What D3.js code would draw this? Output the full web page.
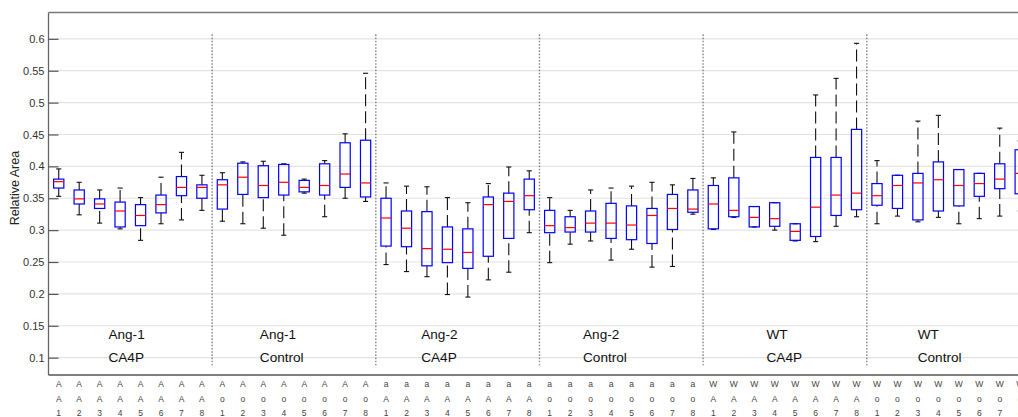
<!DOCTYPE html>
<html>
<head>
<meta charset="utf-8">
<script src="https://cdn.jsdelivr.net/npm/d3@7"></script>
<style>
  html, body { margin: 0; padding: 0; background: #fff; }
  svg { display: block; font-family: "Liberation Sans", Arial, Helvetica, sans-serif; }
</style>
</head>
<body>
<svg id="chart" width="1018" height="417"></svg>
<script>
// Box statistics per sample (8 samples in each of 6 groups)
const whiskerLow = [
  0.353, 0.324, 0.311, 0.302, 0.284, 0.310, 0.316, 0.331,
  0.314, 0.310, 0.303, 0.292, 0.358, 0.321, 0.350, 0.345,
  0.246, 0.235, 0.227, 0.199, 0.195, 0.222, 0.234, 0.296,
  0.249, 0.278, 0.283, 0.253, 0.270, 0.242, 0.243, 0.325,
  0.301, 0.320, 0.305, 0.300, 0.283, 0.282, 0.306, 0.321,
  0.310, 0.322, 0.313, 0.320, 0.310, 0.318, 0.322, 0.330
];
const quartile1 = [
  0.366, 0.341, 0.334, 0.305, 0.307, 0.327, 0.354, 0.350,
  0.333, 0.356, 0.351, 0.355, 0.360, 0.355, 0.367, 0.352,
  0.275, 0.274, 0.244, 0.249, 0.240, 0.259, 0.287, 0.332,
  0.296, 0.297, 0.297, 0.287, 0.285, 0.279, 0.301, 0.328,
  0.302, 0.321, 0.305, 0.306, 0.284, 0.290, 0.323, 0.332,
  0.339, 0.334, 0.316, 0.330, 0.338, 0.353, 0.365, 0.357
];
const medians = [
  0.376, 0.349, 0.341, 0.330, 0.323, 0.340, 0.367, 0.367,
  0.371, 0.383, 0.370, 0.375, 0.367, 0.370, 0.388, 0.374,
  0.319, 0.303, 0.271, 0.270, 0.265, 0.340, 0.345, 0.354,
  0.307, 0.304, 0.311, 0.311, 0.308, 0.323, 0.334, 0.333,
  0.341, 0.331, 0.320, 0.318, 0.298, 0.336, 0.355, 0.358,
  0.354, 0.370, 0.374, 0.379, 0.370, 0.373, 0.380, 0.389
];
const quartile3 = [
  0.380, 0.363, 0.349, 0.344, 0.340, 0.355, 0.384, 0.371,
  0.379, 0.405, 0.401, 0.403, 0.378, 0.404, 0.437, 0.441,
  0.350, 0.330, 0.329, 0.305, 0.302, 0.352, 0.358, 0.380,
  0.331, 0.321, 0.330, 0.342, 0.338, 0.334, 0.356, 0.363,
  0.370, 0.382, 0.337, 0.343, 0.310, 0.414, 0.414, 0.458,
  0.373, 0.386, 0.389, 0.407, 0.395, 0.389, 0.404, 0.426
];
const whiskerHigh = [
  0.396, 0.375, 0.363, 0.366, 0.351, 0.383, 0.422, 0.386,
  0.390, 0.407, 0.408, 0.404, 0.380, 0.409, 0.451, 0.546,
  0.374, 0.369, 0.368, 0.351, 0.343, 0.373, 0.399, 0.393,
  0.351, 0.331, 0.363, 0.366, 0.369, 0.375, 0.371, 0.381,
  0.382, 0.454, 0.337, 0.343, 0.310, 0.512, 0.538, 0.593,
  0.409, 0.386, 0.471, 0.480, 0.395, 0.389, 0.460, 0.440
];

// Tick label pieces: group prefix (two letters) + sample number
const groupPrefixes = ["AA", "Ao", "aA", "ao", "WA", "Wo"];
const sampleNumbers = ["1", "2", "3", "4", "5", "6", "7", "8"];
const categories = groupPrefixes.flatMap(p => sampleNumbers.map(n => p + n));

// Group annotations and where their text starts (in sample-position units)
const groupTitles = [["Ang-1", "CA4P"], ["Ang-1", "Control"], ["Ang-2", "CA4P"],
                     ["Ang-2", "Control"], ["WT", "CA4P"], ["WT", "Control"]];
const groupTitleAt = [3.43, 10.83, 18.72, 26.63, 35.6, 42.99];

const yTicks = [0.1, 0.15, 0.2, 0.25, 0.3, 0.35, 0.4, 0.45, 0.5, 0.55, 0.6];

(function () {
  const boxes = categories.map((c, i) => ({
    name: c, pos: i + 1,
    lo: whiskerLow[i], q1: quartile1[i], med: medians[i], q3: quartile3[i], hi: whiskerHigh[i]
  }));

  const svg = d3.select("#chart");
  const plotLeft = 48.5, plotTop = 12.5, plotBottom = 375;
  const step = 20.457;

  const x = d3.scaleLinear().domain([0.5, 48.5]).range([plotLeft, plotLeft + 48 * step]);
  const y = d3.scaleLinear().domain([0.0728, 0.6413]).range([plotBottom, plotTop]);

  // horizontal grid
  svg.append("g").selectAll("line").data(yTicks).join("line")
    .attr("x1", plotLeft).attr("x2", 1018)
    .attr("y1", d => y(d)).attr("y2", d => y(d))
    .attr("stroke", "#e3e3e3").attr("stroke-width", 1.2);

  // group separators
  const seps = [8.5, 16.5, 24.5, 32.5, 40.5];
  svg.append("g").selectAll("line").data(seps).join("line")
    .attr("x1", d => x(d)).attr("x2", d => x(d))
    .attr("y1", y(0.607)).attr("y2", y(0.088))
    .attr("stroke", "#8a8a8a").attr("stroke-width", 1.4)
    .attr("stroke-dasharray", "1.6,1.6");

  // left axis
  const yAxis = d3.axisLeft(y).tickValues(yTicks).tickFormat(d3.format("~g"))
    .tickSizeInner(-10).tickSizeOuter(0).tickPadding(4);
  const ga = svg.append("g").attr("transform", `translate(${plotLeft},0)`).call(yAxis);
  ga.select(".domain").attr("stroke", "#666").attr("stroke-width", 1.3)
    .attr("d", `M0,${plotTop}V${plotBottom}`);
  ga.selectAll(".tick line").attr("stroke", "#555").attr("stroke-width", 1.2);
  ga.selectAll(".tick text").attr("fill", "#333").style("font-size", "11px")
    .style("font-family", "'Liberation Sans', Arial, sans-serif");

  // top and bottom frame lines
  svg.append("line").attr("x1", plotLeft).attr("x2", 1018).attr("y1", plotTop).attr("y2", plotTop)
    .attr("stroke", "#7a7a7a").attr("stroke-width", 1.3);
  svg.append("line").attr("x1", plotLeft).attr("x2", 1018).attr("y1", plotBottom).attr("y2", plotBottom)
    .attr("stroke", "#555").attr("stroke-width", 1.3);

  // y axis title
  svg.append("text")
    .attr("transform", "translate(19,188) rotate(-90)")
    .attr("text-anchor", "middle")
    .attr("fill", "#222").style("font-size", "12.5px")
    .text("Relative Area");

  // boxes
  const bw = step * 0.5, cw = step * 0.25;
  const g = svg.append("g").selectAll("g").data(boxes).join("g");

  // whiskers (dashed, drawn upward from their lower end)
  g.append("line")
    .attr("x1", d => x(d.pos)).attr("x2", d => x(d.pos))
    .attr("y1", d => y(d.q3)).attr("y2", d => y(d.hi))
    .attr("stroke", "#111").attr("stroke-width", 1.1).attr("stroke-dasharray", "12,5");
  g.append("line")
    .attr("x1", d => x(d.pos)).attr("x2", d => x(d.pos))
    .attr("y1", d => y(d.lo)).attr("y2", d => y(d.q1))
    .attr("stroke", "#111").attr("stroke-width", 1.1).attr("stroke-dasharray", "12,5");

  // whisker caps
  g.append("line")
    .attr("x1", d => x(d.pos) - cw / 2).attr("x2", d => x(d.pos) + cw / 2)
    .attr("y1", d => y(d.hi)).attr("y2", d => y(d.hi))
    .attr("stroke", "#111").attr("stroke-width", 1.1);
  g.append("line")
    .attr("x1", d => x(d.pos) - cw / 2).attr("x2", d => x(d.pos) + cw / 2)
    .attr("y1", d => y(d.lo)).attr("y2", d => y(d.lo))
    .attr("stroke", "#111").attr("stroke-width", 1.1);

  // box
  g.append("rect")
    .attr("x", d => x(d.pos) - bw / 2).attr("width", bw)
    .attr("y", d => y(d.q3)).attr("height", d => y(d.q1) - y(d.q3))
    .attr("fill", "none").attr("stroke", "#0000ff").attr("stroke-width", 1.2);

  // median
  g.append("line")
    .attr("x1", d => x(d.pos) - bw / 2).attr("x2", d => x(d.pos) + bw / 2)
    .attr("y1", d => y(d.med)).attr("y2", d => y(d.med))
    .attr("stroke", "#ff0000").attr("stroke-width", 1.2);

  // group annotations
  groupTitles.forEach((lines, k) => {
    const t = svg.append("text").attr("fill", "#111").style("font-size", "13.6px");
    lines.forEach((s, j) => {
      t.append("tspan").attr("x", x(groupTitleAt[k])).attr("y", 338.5 + j * 23).text(s);
    });
  });

  // stacked category labels under the axis
  const rowsY = [387.3, 401.8, 416.3];
  const xl = svg.append("g").selectAll("text").data(boxes).join("text")
    .attr("text-anchor", "middle").attr("fill", "#444").style("font-size", "8.5px");
  xl.each(function (d) {
    const el = d3.select(this);
    const parts = [d.name[0], d.name[1], d.name.slice(2)];
    parts.forEach((p, j) => {
      el.append("tspan").attr("x", x(d.pos)).attr("y", rowsY[j]).text(p);
    });
  });
})();
</script>
</body>
</html>
